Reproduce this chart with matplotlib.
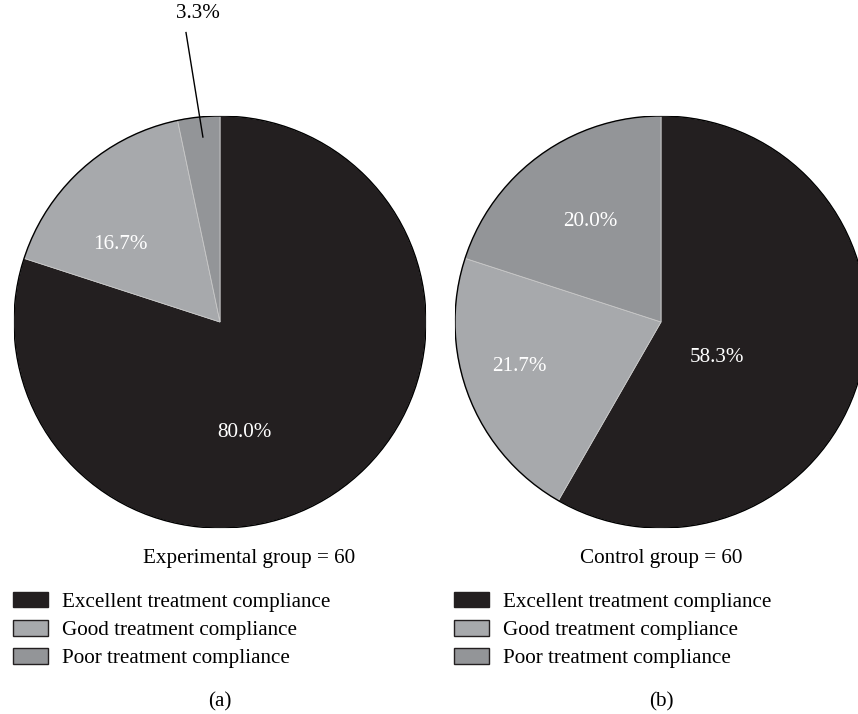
import matplotlib
matplotlib.use("Agg")
import matplotlib.pyplot as plt
from matplotlib.patches import Patch, Circle

plt.rcParams['font.family'] = ['Liberation Serif', 'DejaVu Serif']

categories = ["Excellent treatment compliance", "Good treatment compliance", "Poor treatment compliance"]
exp_values = [80.0, 16.7, 3.3]
ctrl_values = [58.3, 21.7, 20.0]
group_titles = ["Experimental group = 60", "Control group = 60"]
panel_tags = ["(a)", "(b)"]
colors = ["#231f20", "#a7a9ac", "#939598"]

W, H = 858, 714
fig = plt.figure(figsize=(W / 100, H / 100), dpi=100)
fig.patch.set_facecolor("white")

R = 206
centers = [(220, 322), (661, 322)]
# label positions in pie-radius units (layout only)
label_pos = [
    [(0.121, -0.534), (-0.485, 0.374), (-0.107, 1.50)],
    [(0.272, -0.170), (-0.689, -0.218), (-0.345, 0.490)],
]
title_x = [249, 661]
tag_x = [220, 661]
legend_x = [13, 454]
FS = 15.2

for i, vals in enumerate([exp_values, ctrl_values]):
    cx, cy = centers[i]
    ax = fig.add_axes([(cx - R) / W, (H - cy - R) / H, 2 * R / W, 2 * R / H])
    ax.set_xlim(-1, 1)
    ax.set_ylim(-1, 1)
    ax.set_aspect("equal")
    ax.axis("off")
    wedges, _ = ax.pie(vals, colors=colors, startangle=90, counterclock=False,
                       radius=1.0, wedgeprops=dict(linewidth=0.6, edgecolor="#c8c8c8"))
    ax.add_patch(Circle((0, 0), 1.0, fill=False, edgecolor="black", linewidth=1.0))
    ax.set_xlim(-1, 1)
    ax.set_ylim(-1, 1)
    for j, v in enumerate(vals):
        px, py = label_pos[i][j]
        col = "black" if (i == 0 and j == 2) else "white"
        ax.text(px, py, f"{v:.1f}%", ha="center", va="center", color=col,
                fontsize=FS, clip_on=False)
    if i == 0:
        ax.plot([-0.165, -0.083], [1.405, 0.898], color="black", linewidth=1.0, clip_on=False)

    fig.text(title_x[i] / W, 1 - 559 / H, group_titles[i], ha="center", va="center", fontsize=FS)
    fig.text(tag_x[i] / W, 1 - 702 / H, panel_tags[i], ha="center", va="center", fontsize=FS)

    handles = [Patch(facecolor=c, edgecolor="#231f20", linewidth=1.0) for c in colors]
    fig.legend(handles, categories, loc="upper left",
               bbox_to_anchor=(legend_x[i] / W, 1 - 592 / H),
               frameon=False, fontsize=FS, handlelength=1.65, handleheight=0.75,
               handletextpad=0.65, labelspacing=0.38, borderpad=0, borderaxespad=0)

fig.savefig("out.png", dpi=100, facecolor="white")
